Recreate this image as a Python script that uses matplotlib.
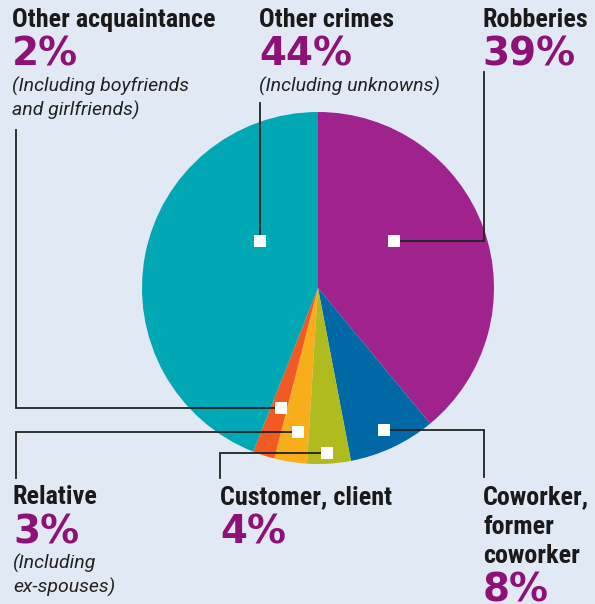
import matplotlib.pyplot as plt

# slices, clockwise from 12 o'clock
labels = ['Robberies', 'Coworker,\nformer\ncoworker', 'Customer, client',
          'Relative', 'Other acquaintance', 'Other crimes']
values = [39, 8, 4, 3, 2, 44]
notes = ['', '', '', '(Including\nex-spouses)',
         '(Including boyfriends\nand girlfriends)', '(Including unknowns)']
colors = ['#a0228d', '#0068a4', '#afbb1f', '#f8ad1b', '#f15a22', '#00a8b5']

bg = '#e1e9f4'
pct_color = '#8e1177'
H = 604  # figure height in px, layout below is given top-down

fig = plt.figure(figsize=(5.95, 6.04), dpi=100, facecolor=bg)
ax = fig.add_axes([0, 0, 1, 1])
ax.set_facecolor(bg)

ax.pie(values, colors=colors, startangle=90, counterclock=False,
       center=(318, H - 288), radius=176, frame=True,
       wedgeprops=dict(linewidth=0))
ax.set_xlim(0, 595)
ax.set_ylim(0, H)
ax.axis('off')

# marker (x, y), leader path, text x, first title baseline
layout = [
    dict(mk=(394, 241), path=[(484, 241), (484, 72)], tx=482, ty=27),
    dict(mk=(384, 430), path=[(484, 430), (484, 477)], tx=483, ty=504),
    dict(mk=(327, 453), path=[(220, 453), (220, 478)], tx=220, ty=504),
    dict(mk=(298, 432), path=[(16, 432), (16, 478)], tx=13, ty=504),
    dict(mk=(281, 408), path=[(16, 408), (16, 130)], tx=12, ty=27),
    dict(mk=(260, 241), path=[(260, 103)], tx=259, ty=27),
]

cond = ['Roboto Condensed', 'DejaVu Sans']
title_font = dict(family=cond, weight='bold', size=18.8)
pct_font = dict(family='DejaVu Sans', weight='bold', size=28)
note_font = dict(family=['Roboto', 'DejaVu Sans'], style='italic', weight='normal', size=14)

for lab, v, note, lay in zip(labels, values, notes, layout):
    mx, my = lay['mk']
    xs = [mx] + [p[0] for p in lay['path']]
    ys = [my] + [p[1] for p in lay['path']]
    ax.plot(xs, [H - y for y in ys], color='#222222', lw=1.3, zorder=3,
            solid_joinstyle='miter')
    ax.scatter([mx], [H - my], marker='s', s=72, color='white', zorder=4, linewidths=0)

    x, y = lay['tx'], lay['ty']
    for line in lab.split('\n'):
        ax.text(x, H - y, line, ha='left', va='baseline', color='#1a1a1a', **title_font)
        y += 29.5
    y += 39 - 29.5
    ax.text(x, H - y, f'{v}%', ha='left', va='baseline', color=pct_color, **pct_font)
    y += 26
    if note:
        for line in note.split('\n'):
            ax.text(x, H - y, line, ha='left', va='baseline', color='#222222', **note_font)
            y += 24

fig.savefig('out.png', dpi=100, facecolor=bg)
